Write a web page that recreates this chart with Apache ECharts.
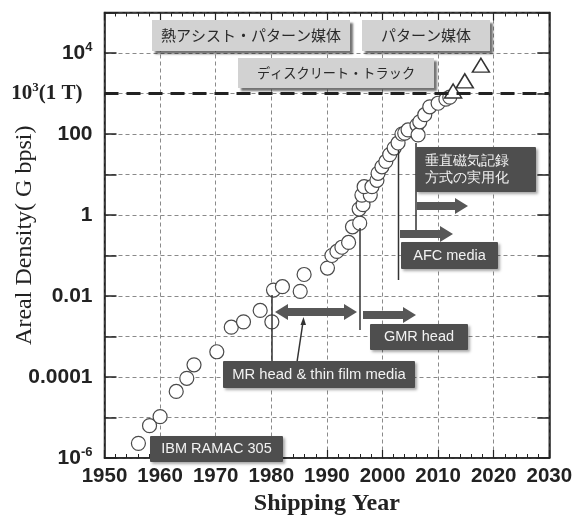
<!DOCTYPE html>
<html><head><meta charset="utf-8">
<script src="https://cdn.jsdelivr.net/npm/echarts@6/dist/echarts.min.js"></script>
<style>html,body{margin:0;padding:0;background:#fff}#c{width:576px;height:518px}</style>
</head><body><div id="c"></div>
<script>
// ---- data ----
const circleYears = [1956.1,1958.1,1960.0,1962.9,1964.8,1966.1,1970.2,1972.8,1975.0,1978.0,
  1980.1,1980.4,1982.0,1985.2,1985.9,1990.1,1990.9,1991.8,1992.7,1993.9,
  1994.6,1995.9,1995.8,1996.5,1996.3,1997.8,1996.7,1998.1,1999.0,1999.2,
  1999.9,2000.6,2001.3,2002.1,2002.8,2003.5,2004.0,2004.6,2006.2,2006.4,
  2006.7,2007.6,2008.5,2010.0,2011.4,2012.1];
const circleValues = [2.3e-6,6.3e-6,1.05e-5,4.4e-5,9.3e-5,2.0e-4,4.2e-4,1.7e-3,2.3e-3,4.4e-3,
  2.3e-3,0.014,0.017,0.013,0.034,0.049,0.10,0.126,0.16,0.21,
  0.51,0.63,1.4,1.8,3.1,3.1,5.0,5.0,7.2,10.7,
  15.5,21,31,45,60,100,105,126,166,95,
  200,300,470,575,725,810];
const triangleYears = [2012.7,2014.8,2017.7];
const triangleValues = [1150,2050,5000];
const terabitLine = 1000;
const xMin = 1950, xMax = 2030, xStep = 10;
const yMin = 1e-6, yMax = 1e5;
const yTickLabels = {'-6':'{b|10}{s|-6}','-4':'{b|0.0001}','-2':'{b|0.01}','0':'{b|1}','2':'{b|100}','3':'{t|10}{ts|3}{te|(1 T)}','4':'{b|10}{s|4}'};

const circles = circleYears.map((y,i)=>[y,circleValues[i]]);
const triangles = triangleYears.map((y,i)=>[y,triangleValues[i]]);

const chart = echarts.init(document.getElementById('c'));
const dark = '#222';
const splitLine = {show:true,lineStyle:{color:'#8a8a8a',type:[4,3],width:1}};

function rightArrow(x0,x1,y,s,h,hl){
  return [[x0,y-s/2],[x1-hl,y-s/2],[x1-hl,y-h/2],[x1,y],[x1-hl,y+h/2],[x1-hl,y+s/2],[x0,y+s/2]];
}
function dblArrow(x0,x1,y,s,h,hl){
  return [[x0,y],[x0+hl,y-h/2],[x0+hl,y-s/2],[x1-hl,y-s/2],[x1-hl,y-h/2],[x1,y],[x1-hl,y+h/2],[x1-hl,y+s/2],[x0+hl,y+s/2],[x0+hl,y+h/2]];
}
function lightBox(x,y,w,h,text,fs){
  return [
    {type:'rect',z:100,shape:{x:x,y:y,width:w,height:h},style:{fill:'#d2d2d2',shadowColor:'rgba(0,0,0,0.55)',shadowOffsetX:3,shadowOffsetY:3,shadowBlur:2}},
    {type:'text',z:101,x:x+w/2,y:y+h/2,style:{text:text,fill:'#2a2a2a',font:fs+'px "Noto Sans CJK JP"',textAlign:'center',textVerticalAlign:'middle',align:'center',verticalAlign:'middle'}}
  ];
}
function darkBox(x,y,w,h,text,fs,left){
  return [
    {type:'rect',z:100,shape:{x:x,y:y,width:w,height:h,r:1},style:{fill:'#4e4e4e',shadowColor:'rgba(0,0,0,0.35)',shadowOffsetX:2,shadowOffsetY:2,shadowBlur:3}},
    {type:'text',z:101,x:left?x+9:x+w/2,y:y+h/2,style:{text:text,fill:'#f2f2f2',font:fs+'px "Liberation Sans"',textAlign:left?'left':'center',textVerticalAlign:'middle',align:left?'left':'center',verticalAlign:'middle',lineHeight:17}}
  ];
}
const arrowStyle = {fill:'#575757'};
const vline = (x,y0,y1)=>({type:'line',z:99,shape:{x1:x,y1:y0,x2:x,y2:y1},style:{stroke:'#333',lineWidth:1.5}});

const graphics = [].concat(
  lightBox(152,20,198,31,'熱アシスト・パターン媒体',15),
  lightBox(362,20,128,31,'パターン媒体',15),
  lightBox(238,58,196,30,'ディスクリート・トラック',13.2),
  [vline(416,143,230), vline(398.5,150,280), vline(360,228,330), vline(272,295,362)],
  [{type:'polygon',z:100,shape:{points:rightArrow(417,468,206,8,16,13)},style:arrowStyle},
   {type:'polygon',z:100,shape:{points:rightArrow(400,453,234,8,16,13)},style:arrowStyle},
   {type:'polygon',z:100,shape:{points:rightArrow(363,416,315,8,16,13)},style:arrowStyle},
   {type:'polygon',z:100,shape:{points:dblArrow(275,357,312,8,16,13)},style:arrowStyle},
   {type:'line',z:100,shape:{x1:297,y1:362,x2:303,y2:322},style:{stroke:'#333',lineWidth:1.5}},
   {type:'polygon',z:100,shape:{points:[[303.5,317],[300.5,325],[306,325]]},style:{fill:'#333'}}],
  darkBox(416,147,120,45,'垂直磁気記録\n方式の実用化',14,true),
  darkBox(401,242,97,27,'AFC media',14.5,false),
  darkBox(370,324,98,26,'GMR head',14.5,false),
  darkBox(223,361,192,27,'MR head & thin film media',14.8,false),
  darkBox(150,436,133,26,'IBM RAMAC 305',14.5,false)
);

const richY = {
  b:{fontSize:21,fontWeight:'bold',fontFamily:'Liberation Sans',color:dark,lineHeight:24},
  s:{fontSize:13,fontWeight:'bold',fontFamily:'Liberation Sans',color:dark,verticalAlign:'top',lineHeight:13},
  t:{fontSize:21,fontWeight:'bold',fontFamily:'Liberation Serif',color:dark,lineHeight:24},
  ts:{fontSize:13,fontWeight:'bold',fontFamily:'Liberation Serif',color:dark,verticalAlign:'top',lineHeight:13},
  te:{fontSize:21,fontWeight:'bold',fontFamily:'Liberation Serif',color:dark,lineHeight:24,padding:[0,10,0,0]}
};

chart.setOption({
  animation:false,
  backgroundColor:'#fff',
  grid:{left:104.5,right:26.7,top:12.5,bottom:60,outerBoundsMode:'none',containLabel:false,show:true,borderColor:dark,borderWidth:1.5,backgroundColor:'transparent'},
  xAxis:[{
    type:'value',min:xMin,max:xMax,interval:xStep,position:'bottom',
    name:'Shipping Year',nameLocation:'middle',nameGap:34,nameMoveOverlap:false,
    nameTextStyle:{fontFamily:'Liberation Serif',fontWeight:'bold',fontSize:24,color:dark},
    axisLine:{show:true,lineStyle:{color:dark,width:1.5}},
    axisTick:{show:true,inside:true,length:8,lineStyle:{color:dark,width:1.2}},
    minorTick:{show:true,splitNumber:5,length:4,lineStyle:{color:dark,width:1}},
    axisLabel:{margin:8,fontFamily:'Liberation Sans',fontWeight:'bold',fontSize:20.5,color:dark,formatter:v=>String(v)},
    splitLine:splitLine
  },{
    type:'value',min:xMin,max:xMax,interval:xStep,position:'top',
    axisLine:{show:true,lineStyle:{color:dark,width:1.5}},
    axisTick:{show:true,inside:true,length:8,lineStyle:{color:dark,width:1.2}},
    minorTick:{show:true,splitNumber:5,length:4,lineStyle:{color:dark,width:1}},
    axisLabel:{show:false},splitLine:{show:false}
  }],
  yAxis:[{
    type:'log',logBase:10,min:yMin,max:yMax,interval:1,splitNumber:11,
    name:'Areal Density( G bpsi)',nameLocation:'middle',nameGap:68,nameMoveOverlap:false,
    nameTextStyle:{fontFamily:'Liberation Serif',fontSize:24,color:dark},
    axisLine:{show:true,lineStyle:{color:dark,width:1.5}},
    axisTick:{show:true,inside:true,length:12,lineStyle:{color:dark,width:1.5}},
    axisLabel:{margin:12,rich:richY,formatter:function(v){
      const e = Math.round(Math.log10(v));
      return yTickLabels[String(e)] || '';
    }},
    splitLine:splitLine
  },{
    type:'log',logBase:10,min:yMin,max:yMax,interval:1,splitNumber:11,position:'right',
    axisLine:{show:true,lineStyle:{color:dark,width:1.5}},
    axisTick:{show:true,inside:true,length:12,lineStyle:{color:dark,width:1.5}},
    axisLabel:{show:false},splitLine:{show:false}
  }],
  series:[{
    type:'scatter',name:'HDD',data:circles,symbol:'circle',symbolSize:14,
    itemStyle:{color:'#fff',borderColor:'#4a4a4a',borderWidth:1.2,opacity:1},
    markLine:{silent:true,symbol:'none',label:{show:false},
      lineStyle:{color:dark,type:[14,8],width:3},
      data:[{yAxis:terabitLine}]}
  },{
    type:'scatter',name:'future',data:triangles,symbol:'triangle',symbolSize:[17,14],
    itemStyle:{color:'#fff',borderColor:'#333',borderWidth:1.5,opacity:1}
  }],
  graphic:graphics
});
</script></body></html>
